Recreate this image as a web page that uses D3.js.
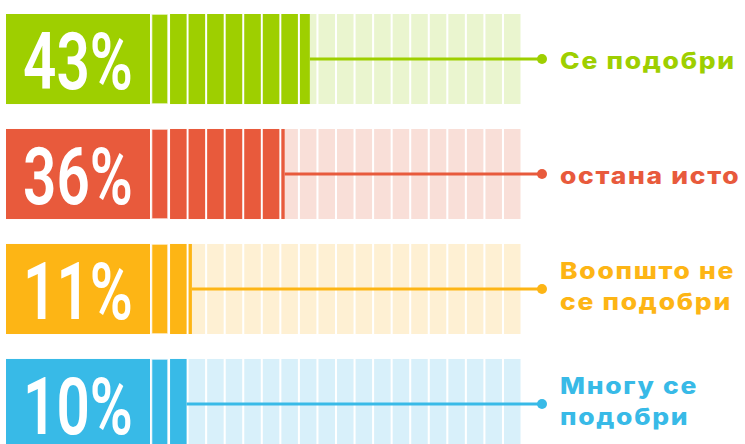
<!DOCTYPE html>
<html>
<head>
<meta charset="utf-8">
<script src="https://cdn.jsdelivr.net/npm/d3@7/dist/d3.min.js"></script>
<style>
  html, body { margin: 0; padding: 0; background: #ffffff; }
  svg { display: block; }
</style>
</head>
<body>
<svg id="chart" width="745" height="444"></svg>
<script>
// ---- data ----
const categories = ["Се подобри", "остана исто", "Воопшто не се подобри", "Многу се подобри"];
const values = [43, 36, 11, 10];
const valueLabels = ["43%", "36%", "11%", "10%"];
const labelLines = [["Се подобри"], ["остана исто"], ["Воопшто не", "се подобри"], ["Многу се", "подобри"]];
const mainColors = ["#9ecf00", "#e85a3c", "#fdb515", "#38bae7"];
const paleColors = ["#eaf5cf", "#f9dfd8", "#fef0d3", "#d8f0fa"];
const segmentCount = 20; // each segment = 5%

// ---- layout ----
const svg = d3.select("#chart");

const y = d3.scaleBand().domain(categories).range([14, 449]).paddingInner(0.217);
const seg = d3.scaleBand().domain(d3.range(segmentCount)).range([151.5, 520.5]).paddingInner(0.11);
const segValue = 100 / segmentCount;
const boxX0 = 6, boxX1 = 150;
const dotX = 542, labelX = 560;

const rows = svg.selectAll("g.row").data(categories).join("g")
  .attr("class", "row")
  .attr("transform", d => `translate(0,${y(d)})`);

const bh = y.bandwidth();

// label box
rows.append("rect")
  .attr("x", boxX0).attr("y", 0)
  .attr("width", boxX1 - boxX0).attr("height", bh)
  .attr("fill", (d, i) => mainColors[i]);

// percent text (condensed look)
rows.append("text")
  .attr("transform", `translate(133,${bh * 0.835}) scale(0.74,1.02)`)
  .attr("text-anchor", "end")
  .attr("font-family", "Roboto, 'DejaVu Sans', sans-serif")
  .attr("font-weight", 600)
  .attr("font-size", 79)
  .attr("fill", "#ffffff")
  .text((d, i) => valueLabels[i]);

rows.each(function(d, i) {
  const g = d3.select(this);
  const v = values[i];
  // pale segments
  g.selectAll("rect.bg").data(d3.range(segmentCount)).join("rect")
    .attr("class", "bg")
    .attr("x", k => seg(k)).attr("y", 0)
    .attr("width", seg.bandwidth()).attr("height", bh)
    .attr("fill", paleColors[i]);
  // filled segments
  const fills = d3.range(segmentCount).map(k => Math.max(0, Math.min(1, (v - k * segValue) / segValue)));
  g.selectAll("rect.fg").data(fills.map((f, k) => ({k, f})).filter(o => o.f > 0)).join("rect")
    .attr("class", "fg")
    .attr("x", o => seg(o.k) + (o.k === 0 ? 0.8 : 0)).attr("y", o => o.k === 0 ? 0.8 : 0)
    .attr("width", o => o.f * seg.bandwidth() - (o.k === 0 ? 1.6 : 0))
    .attr("height", o => bh - (o.k === 0 ? 1.6 : 0))
    .attr("fill", mainColors[i]);
  // connector line from fill end
  const lastK = Math.ceil(v / segValue) - 1;
  const endX = seg(lastK) + fills[lastK] * seg.bandwidth();
  g.append("line")
    .attr("x1", endX).attr("x2", dotX)
    .attr("y1", bh / 2).attr("y2", bh / 2)
    .attr("stroke", mainColors[i]).attr("stroke-width", 3);
  g.append("circle")
    .attr("cx", dotX).attr("cy", bh / 2).attr("r", 5)
    .attr("fill", mainColors[i]);
  // category label
  const lines = labelLines[i];
  const lineH = 31;
  const firstBase = lines.length === 1 ? bh / 2 + 10 : bh / 2 - 10;
  const t = g.append("text")
    .attr("transform", `translate(${labelX},0) scale(1.15,1)`)
    .attr("font-family", "Inter, 'DejaVu Sans', sans-serif")
    .attr("font-weight", 800)
    .attr("font-size", 23)
    .attr("letter-spacing", 1.5)
    .attr("fill", mainColors[i]);
  lines.forEach((ln, j) => {
    t.append("tspan").attr("x", 0).attr("y", firstBase + j * lineH).text(ln);
  });
});
</script>
</body>
</html>
